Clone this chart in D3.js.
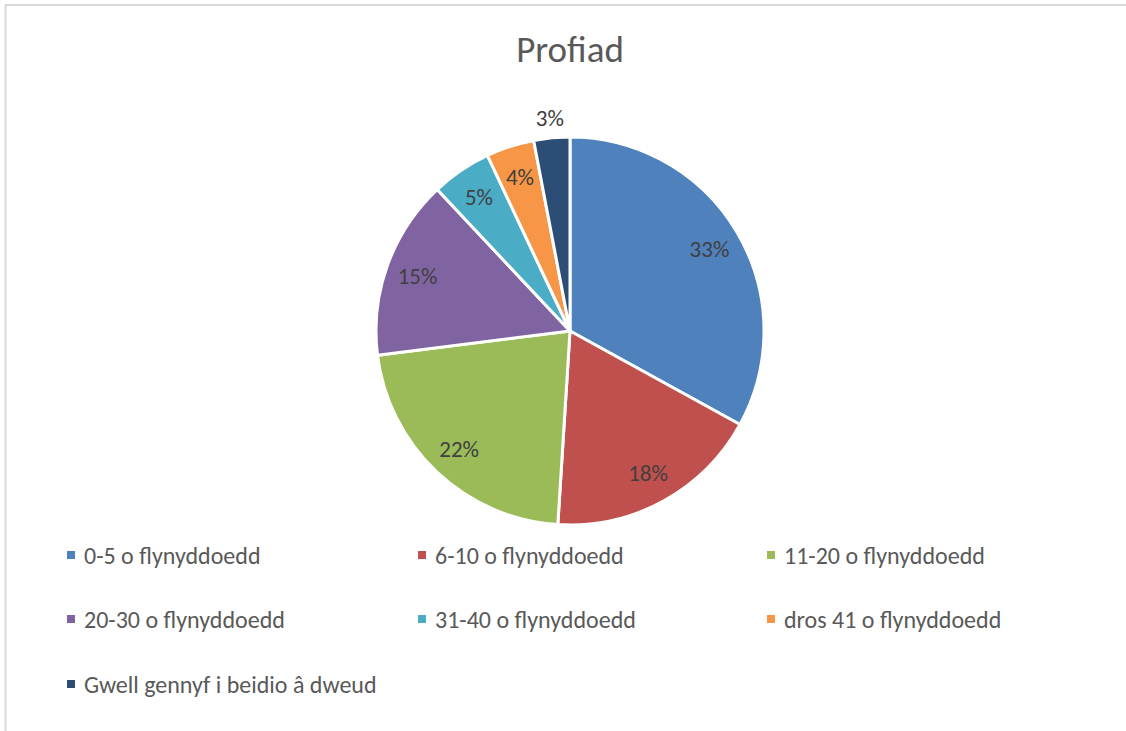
<!DOCTYPE html>
<html>
<head>
<meta charset="utf-8">
<script src="https://cdn.jsdelivr.net/npm/d3@7"></script>
<style>
  html, body { margin: 0; padding: 0; background: #ffffff; }
  svg { display: block; }
  text { font-family: Carlito, "Open Sans", sans-serif; }
</style>
</head>
<body>
<svg id="chart" width="1126" height="731"></svg>
<script>
const title = "Profiad";
const categories = [
  "0-5 o flynyddoedd",
  "6-10 o flynyddoedd",
  "11-20 o flynyddoedd",
  "20-30 o flynyddoedd",
  "31-40 o flynyddoedd",
  "dros 41 o flynyddoedd",
  "Gwell gennyf i beidio â dweud"
];
const values = [33, 18, 22, 15, 5, 4, 3];
const colors = ["#4F81BD", "#C0504D", "#9BBB59", "#8064A2", "#4BACC6", "#F79646", "#2C4D75"];

const W = 1126, H = 731;
const svg = d3.select("#chart");

// chart frame
svg.append("rect")
  .attr("x", 5.5).attr("y", 5).attr("width", 1130).attr("height", 740)
  .attr("fill", "#ffffff").attr("stroke", "#D9D9D9").attr("stroke-width", 2);

// title
svg.append("text")
  .attr("x", 570).attr("y", 49)
  .attr("text-anchor", "middle")
  .attr("dominant-baseline", "central")
  .attr("font-size", 37)
  .attr("fill", "#595959")
  .text(title);

const cx = 570, cy = 331, r = 194;
const total = d3.sum(values);
const pie = d3.pie().sort(null).value(d => d.v);
const data = pie(values.map((v, i) => ({ v, name: categories[i], color: colors[i] })));
const arc = d3.arc().innerRadius(0).outerRadius(r);

const g = svg.append("g").attr("transform", `translate(${cx},${cy})`);
g.selectAll("path").data(data).join("path")
  .attr("d", arc)
  .attr("fill", d => d.data.color)
  .attr("stroke", "#ffffff")
  .attr("stroke-width", 3)
  .attr("stroke-linejoin", "round");

const inArc = d3.arc().innerRadius(162).outerRadius(162);
const outArc = d3.arc().innerRadius(214).outerRadius(214);
g.selectAll("text.lbl").data(data).join("text")
  .attr("class", "lbl")
  .attr("transform", d => {
    const c = (d.data.v / total < 0.035 ? outArc : inArc).centroid(d);
    return `translate(${c[0]},${c[1]})`;
  })
  .attr("text-anchor", "middle")
  .attr("dominant-baseline", "central")
  .attr("font-size", 23)
  .attr("fill", "#404040")
  .text(d => Math.round(d.data.v / total * 100) + "%");

// legend
const colX = [67, 418, 767];
const rowY = [555, 619, 684];
const leg = svg.append("g");
categories.forEach((name, i) => {
  const x = colX[i % 3], y = rowY[Math.floor(i / 3)];
  leg.append("rect")
    .attr("x", x).attr("y", y - 4).attr("width", 8).attr("height", 8)
    .attr("fill", colors[i]);
  leg.append("text")
    .attr("x", x + 17).attr("y", y)
    .attr("dominant-baseline", "central")
    .attr("font-size", 24)
    .attr("fill", "#595959")
    .text(name);
});
</script>
</body>
</html>
